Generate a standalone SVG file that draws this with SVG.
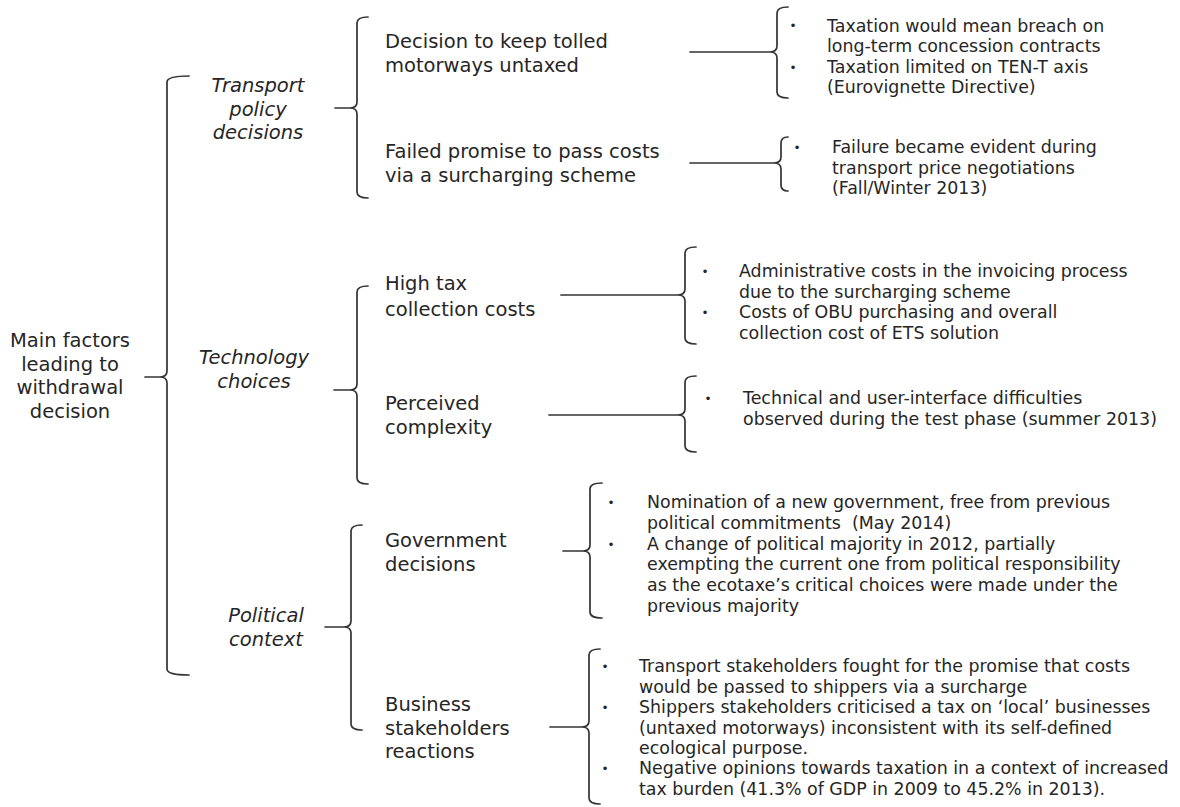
<svg xmlns="http://www.w3.org/2000/svg" width="1180" height="807" viewBox="0 0 1180 807">
<style>
text{font-family:"DejaVu Sans","Liberation Sans",sans-serif;fill:#262626}
.lab{font-size:19.5px}
.root{font-size:19.5px;text-anchor:middle}
.cat{font-size:19.5px;font-style:italic;text-anchor:middle}
.bul{font-size:17.4px}
.dot{font-size:12px;text-anchor:middle}
.br{fill:none;stroke:#333;stroke-width:1.7;stroke-linejoin:round;stroke-linecap:round}
</style>
<rect width="1180" height="807" fill="#fff"/>
<g id="connectors">
<path class="br" d="M189,76 Q167,76 167,82 L167,371 Q167,377 160,377 L145,377 M160,377 Q167,377 167,383 L167,669 Q167,675 189,675"/>
<path class="br" d="M368,17 Q357,17 357,23 L357,102 Q357,108 350,108 L335,108 M350,108 Q357,108 357,114 L357,192 Q357,198 368,198"/>
<path class="br" d="M368,286 Q357,286 357,292 L357,384 Q357,390 350,390 L334,390 M350,390 Q357,390 357,396 L357,478 Q357,484 368,484"/>
<path class="br" d="M362,525 Q351,525 351,531 L351,621 Q351,627 344,627 L325,627 M344,627 Q351,627 351,633 L351,724 Q351,730 362,730"/>
<path class="br" d="M788,7 Q777,7 777,13 L777,46 Q777,52 770,52 L690,52 M770,52 Q777,52 777,58 L777,92 Q777,98 788,98"/>
<path class="br" d="M788,137 Q781,137 781,143 L781,157 Q781,163 774,163 L690,163 M774,163 Q781,163 781,169 L781,185 Q781,191 788,191"/>
<path class="br" d="M696,247 Q685,247 685,253 L685,289 Q685,295 678,295 L561,295 M678,295 Q685,295 685,301 L685,338 Q685,344 696,344"/>
<path class="br" d="M696,376 Q685,376 685,382 L685,409 Q685,415 678,415 L549,415 M678,415 Q685,415 685,421 L685,446 Q685,452 696,452"/>
<path class="br" d="M602,483 Q590,483 590,489 L590,545 Q590,551 583,551 L563,551 M583,551 Q590,551 590,557 L590,612 Q590,618 602,618"/>
<path class="br" d="M600,649 Q589,649 589,655 L589,721 Q589,727 582,727 L550,727 M582,727 Q589,727 589,733 L589,798 Q589,804 600,804"/>
</g>
<g id="root">
<text class="root" x="70" y="347">Main factors</text>
<text class="root" x="70" y="371">leading to</text>
<text class="root" x="70" y="394">withdrawal</text>
<text class="root" x="70" y="418">decision</text>
</g>
<g id="transport-policy">
<text class="cat" x="258" y="92">Transport</text>
<text class="cat" x="258" y="115.5">policy</text>
<text class="cat" x="258" y="139">decisions</text>
</g>
<g id="technology">
<text class="cat" x="254" y="364">Technology</text>
<text class="cat" x="254" y="388">choices</text>
</g>
<g id="political">
<text class="cat" x="266" y="622">Political</text>
<text class="cat" x="266" y="646">context</text>
</g>
<g id="decision-tolled">
<text class="lab" x="385" y="48">Decision to keep tolled</text>
<text class="lab" x="385" y="72">motorways untaxed</text>
</g>
<g id="failed-promise">
<text class="lab" x="385" y="158">Failed promise to pass costs</text>
<text class="lab" x="385" y="182">via a surcharging scheme</text>
</g>
<g id="high-tax">
<text class="lab" x="385" y="290">High tax</text>
<text class="lab" x="385" y="316">collection costs</text>
</g>
<g id="perceived">
<text class="lab" x="385" y="410">Perceived</text>
<text class="lab" x="385" y="434">complexity</text>
</g>
<g id="government">
<text class="lab" x="385" y="547">Government</text>
<text class="lab" x="385" y="571">decisions</text>
</g>
<g id="business">
<text class="lab" x="385" y="711">Business</text>
<text class="lab" x="385" y="735">stakeholders</text>
<text class="lab" x="385" y="758">reactions</text>
</g>
<g id="decision-details">
<text class="dot" x="793" y="29.5">•</text>
<text class="dot" x="793" y="71.5">•</text>
<text class="bul" x="827" y="31.5">Taxation would mean breach on</text>
<text class="bul" x="827" y="52">long-term concession contracts</text>
<text class="bul" x="827" y="72.5">Taxation limited on TEN-T axis</text>
<text class="bul" x="827" y="93">(Eurovignette Directive)</text>
</g>
<g id="failed-details">
<text class="dot" x="797" y="151.5">•</text>
<text class="bul" x="832" y="153">Failure became evident during</text>
<text class="bul" x="832" y="173.5">transport price negotiations</text>
<text class="bul" x="832" y="194">(Fall/Winter 2013)</text>
</g>
<g id="high-tax-details">
<text class="dot" x="705" y="275.5">•</text>
<text class="dot" x="705" y="316.5">•</text>
<text class="bul" x="739" y="277">Administrative costs in the invoicing process</text>
<text class="bul" x="739" y="297.5">due to the surcharging scheme</text>
<text class="bul" x="739" y="318">Costs of OBU purchasing and overall</text>
<text class="bul" x="739" y="338.5">collection cost of ETS solution</text>
</g>
<g id="perceived-details">
<text class="dot" x="708" y="402.5">•</text>
<text class="bul" x="743" y="404">Technical and user-interface difficulties</text>
<text class="bul" x="743" y="424.5">observed during the test phase (summer 2013)</text>
</g>
<g id="government-details">
<text class="dot" x="611" y="506.5">•</text>
<text class="dot" x="611" y="548.5">•</text>
<text class="bul" x="647" y="508">Nomination of a new government, free from previous</text>
<text class="bul" x="647" y="528.5" xml:space="preserve">political commitments  (May 2014)</text>
<text class="bul" x="647" y="549.5">A change of political majority in 2012, partially</text>
<text class="bul" x="647" y="570">exempting the current one from political responsibility</text>
<text class="bul" x="647" y="591">as the ecotaxe’s critical choices were made under the</text>
<text class="bul" x="647" y="611.5">previous majority</text>
</g>
<g id="business-details">
<text class="dot" x="605" y="670.5">•</text>
<text class="dot" x="605" y="711.5">•</text>
<text class="dot" x="605" y="772.5">•</text>
<text class="bul" x="639" y="672">Transport stakeholders fought for the promise that costs</text>
<text class="bul" x="639" y="692.5">would be passed to shippers via a surcharge</text>
<text class="bul" x="639" y="713">Shippers stakeholders criticised a tax on ‘local’ businesses</text>
<text class="bul" x="639" y="733.5">(untaxed motorways) inconsistent with its self-defined</text>
<text class="bul" x="639" y="753.5">ecological purpose.</text>
<text class="bul" x="639" y="774">Negative opinions towards taxation in a context of increased</text>
<text class="bul" x="639" y="794.5">tax burden (41.3% of GDP in 2009 to 45.2% in 2013).</text>
</g>
</svg>
